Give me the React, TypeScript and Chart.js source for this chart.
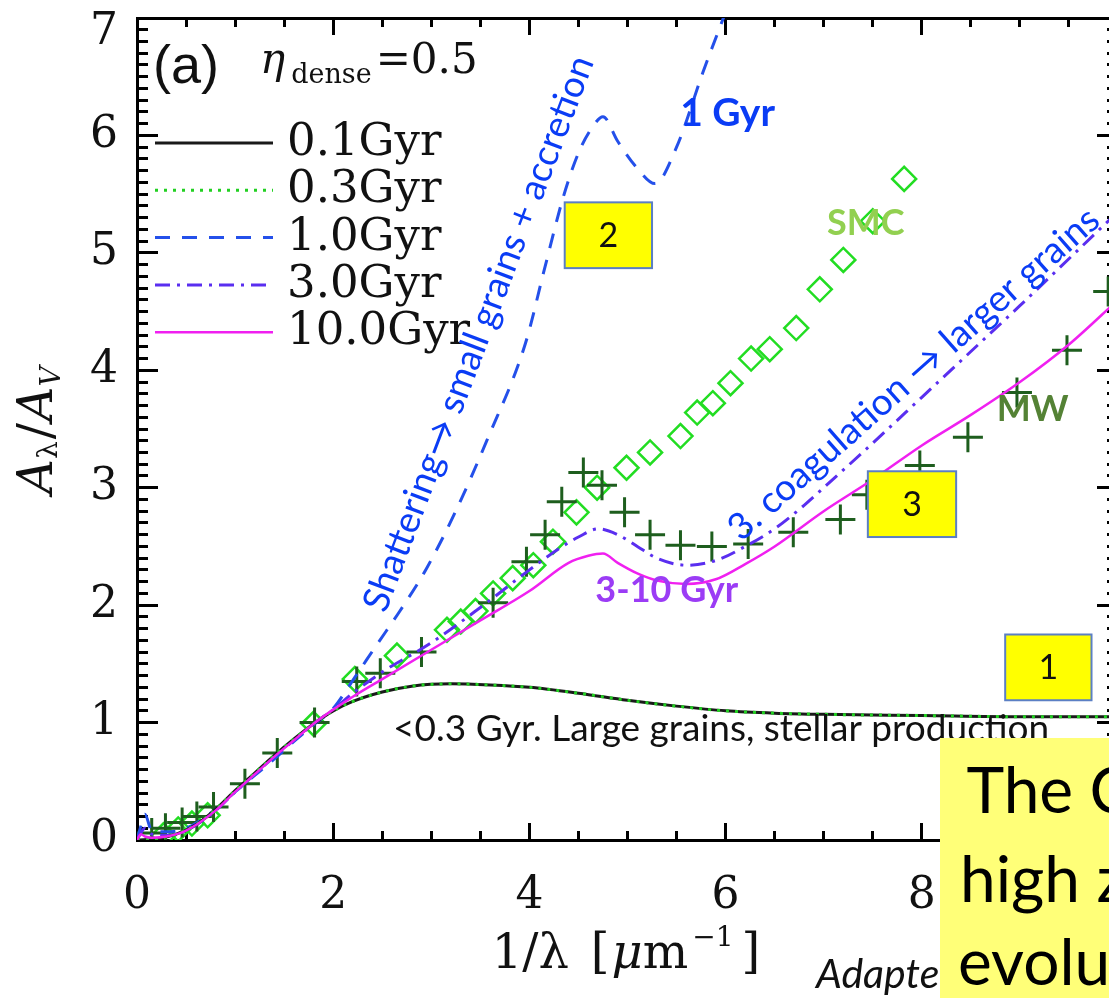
import React, { useEffect, useRef } from "react";
import { Chart, registerables } from "chart.js";

Chart.register(...registerables);

// ---- axis ticks ----
const X_MIN = 0;
const X_MAX = 10;
const X_TICK_STEP = 2;
const X_MINOR_STEP = 0.5;
const Y_MIN = 0;
const Y_MAX = 7;
const Y_TICK_STEP = 1;
const Y_MINOR_STEP = 0.1;

// ---- legend ----
const LEGEND_LABELS = ["0.1Gyr", "0.3Gyr", "1.0Gyr", "3.0Gyr", "10.0Gyr"];

// ---- model curves (A_lambda / A_V vs 1/lambda) ----
const G01_X = [0, 0.2, 0.4, 0.6, 0.8, 1.0, 1.2, 1.4, 1.6, 1.8, 2.0, 2.2, 2.5, 2.8, 3.2, 3.6, 4.0, 4.5, 5.0, 5.5, 6.0, 6.5, 7.0, 8.0, 9.0, 10.0];
const G01_Y = [0, 0.01, 0.05, 0.13, 0.26, 0.42, 0.57, 0.72, 0.86, 0.99, 1.1, 1.18, 1.26, 1.31, 1.33, 1.32, 1.3, 1.25, 1.19, 1.14, 1.1, 1.08, 1.07, 1.06, 1.05, 1.05];

const G03_X = [0, 0.2, 0.4, 0.6, 0.8, 1.0, 1.2, 1.4, 1.6, 1.8, 2.0, 2.2, 2.5, 2.8, 3.2, 3.6, 4.0, 4.5, 5.0, 5.5, 6.0, 6.5, 7.0, 8.0, 9.0, 10.0];
const G03_Y = [0, 0.01, 0.05, 0.13, 0.26, 0.42, 0.57, 0.72, 0.86, 0.99, 1.1, 1.18, 1.26, 1.31, 1.33, 1.32, 1.3, 1.25, 1.19, 1.14, 1.1, 1.08, 1.07, 1.06, 1.05, 1.05];

const G10_X = [0, 0.04, 0.08, 0.15, 0.3, 0.5, 0.8, 1.0, 1.2, 1.4, 1.6, 1.8, 2.0, 2.2, 2.45, 2.68, 2.95, 3.26, 3.57, 3.96, 4.15, 4.34, 4.5, 4.65, 4.75, 4.9, 5.1, 5.28, 5.5, 5.77, 6.0, 6.2];
const G10_Y = [0, 0.12, 0.22, 0.08, 0.07, 0.1, 0.26, 0.41, 0.55, 0.69, 0.84, 0.98, 1.12, 1.36, 1.67, 1.95, 2.31, 2.82, 3.41, 4.23, 4.85, 5.46, 5.85, 6.08, 6.16, 5.95, 5.72, 5.59, 5.9, 6.54, 7.05, 7.5];

const G30_X = [0, 0.04, 0.08, 0.15, 0.3, 0.5, 0.8, 1.0, 1.2, 1.4, 1.6, 1.8, 2.0, 2.2, 2.5, 3.0, 3.5, 4.0, 4.3, 4.5, 4.7, 4.9, 5.1, 5.3, 5.6, 5.9, 6.2, 6.5, 6.8, 7.0, 7.5, 8.0, 8.5, 9.0, 9.5, 10.0];
const G30_Y = [0, 0.06, 0.1, 0.05, 0.04, 0.08, 0.25, 0.41, 0.56, 0.71, 0.85, 0.99, 1.11, 1.25, 1.43, 1.68, 1.98, 2.3, 2.48, 2.58, 2.65, 2.6, 2.5, 2.4, 2.34, 2.38, 2.5, 2.65, 2.85, 3.0, 3.38, 3.77, 4.16, 4.55, 4.95, 5.35];

const G100_X = [0, 0.04, 0.08, 0.15, 0.3, 0.5, 0.8, 1.0, 1.2, 1.4, 1.6, 1.8, 2.0, 2.2, 2.5, 3.0, 3.5, 4.0, 4.4, 4.6, 4.75, 4.9, 5.1, 5.3, 5.6, 5.9, 6.2, 6.5, 7.0, 7.5, 8.0, 8.5, 9.0, 9.5, 10.0];
const G100_Y = [0, 0.05, 0.03, 0.02, 0.03, 0.08, 0.25, 0.41, 0.56, 0.71, 0.85, 0.99, 1.11, 1.22, 1.37, 1.62, 1.87, 2.12, 2.36, 2.42, 2.44, 2.36, 2.27, 2.21, 2.18, 2.22, 2.35, 2.5, 2.8, 3.07, 3.36, 3.62, 3.9, 4.22, 4.6];

// ---- observed extinction curves ----
const SMC_X = [0.27, 0.42, 0.56, 0.72, 1.8, 2.22, 2.65, 3.16, 3.3, 3.45, 3.63, 3.83, 4.04, 4.24, 4.48, 4.69, 4.99, 5.23, 5.54, 5.71, 5.87, 6.05, 6.26, 6.45, 6.72, 6.96, 7.2, 7.5, 7.82];
const SMC_Y = [0.04, 0.09, 0.14, 0.21, 0.99, 1.37, 1.57, 1.79, 1.86, 1.95, 2.1, 2.23, 2.34, 2.54, 2.79, 3.0, 3.17, 3.3, 3.44, 3.64, 3.72, 3.89, 4.1, 4.18, 4.36, 4.69, 4.94, 5.27, 5.63];

const MW_X = [0.15, 0.29, 0.46, 0.61, 0.78, 1.1, 1.43, 1.81, 2.24, 2.48, 2.9, 3.63, 3.97, 4.16, 4.33, 4.55, 4.74, 4.97, 5.23, 5.54, 5.86, 6.23, 6.69, 7.17, 7.44, 7.98, 8.47, 8.97, 9.48, 9.9];
const MW_Y = [0.06, 0.1, 0.15, 0.2, 0.28, 0.48, 0.74, 1.0, 1.35, 1.42, 1.6, 2.02, 2.37, 2.6, 2.88, 3.13, 3.02, 2.79, 2.6, 2.51, 2.5, 2.52, 2.62, 2.73, 2.94, 3.19, 3.43, 3.81, 4.17, 4.67];

const pts = (xs: number[], ys: number[]) => xs.map((x, i) => ({ x, y: ys[i] }));

const SERIF = '"DejaVu Serif", "Liberation Serif", serif';
const SANS = 'Lato, "Open Sans", sans-serif';
const INK = "#000";

type Seg = { t: string; font: string; dy?: number; gap?: number };

function drawSeq(ctx: CanvasRenderingContext2D, x: number, y: number, segs: Seg[], center: boolean) {
  let w = 0;
  segs.forEach((s) => {
    ctx.font = s.font;
    w += ctx.measureText(s.t).width + (s.gap || 0);
  });
  let cx = center ? x - w / 2 : x;
  segs.forEach((s) => {
    ctx.font = s.font;
    ctx.fillText(s.t, cx, y + (s.dy || 0));
    cx += ctx.measureText(s.t).width + (s.gap || 0);
  });
}

// an extra axis that only contributes inward tick marks (and optionally the frame line)
function tickAxis(
  axis: "x" | "y",
  position: string,
  min: number,
  max: number,
  step: number,
  len: number,
  weight: number,
  border: boolean
) {
  const horizontal = axis === "x";
  return {
    type: "linear",
    axis,
    position,
    min,
    max,
    weight,
    grid: { display: true, drawOnChartArea: false, drawTicks: true, tickLength: -len, tickWidth: 3, tickColor: INK, lineWidth: 3, color: INK },
    border: { display: border, width: 3, color: INK },
    ticks: { display: false, stepSize: step, autoSkip: false },
    afterFit: (s: any) => {
      if (horizontal) {
        s.height = 0;
        s.paddingLeft = 0;
        s.paddingRight = 0;
      } else {
        s.width = 0;
        s.paddingTop = 0;
        s.paddingBottom = 0;
      }
    },
  };
}

const decorPlugin = {
  id: "decor",
  afterDraw(chart: any) {
    const ctx: CanvasRenderingContext2D = chart.ctx;
    const xs = chart.scales.x;
    const ys = chart.scales.y;
    const px = (v: number) => xs.getPixelForValue(v);
    const py = (v: number) => ys.getPixelForValue(v);
    ctx.save();
    ctx.setLineDash([]);

    ctx.fillStyle = "#111";
    ctx.textAlign = "left";
    ctx.textBaseline = "alphabetic";

    // x axis title
    drawSeq(
      ctx,
      626,
      968,
      [
        { t: "1/λ", font: `48px ${SERIF}`, gap: 22 },
        { t: "[", font: `48px ${SERIF}`, gap: 2 },
        { t: "μ", font: `italic 48px ${SERIF}` },
        { t: "m", font: `48px ${SERIF}`, gap: 4 },
        { t: "−1", font: `28px ${SERIF}`, dy: -22, gap: 8 },
        { t: "]", font: `48px ${SERIF}` },
      ],
      true
    );

    // y axis title
    ctx.save();
    ctx.translate(52, 430);
    ctx.rotate(-Math.PI / 2);
    drawSeq(
      ctx,
      0,
      0,
      [
        { t: "A", font: `italic 48px ${SERIF}` },
        { t: "λ", font: `28px ${SERIF}`, dy: 5, gap: 2 },
        { t: "/", font: `48px ${SERIF}`, gap: 2 },
        { t: "A", font: `italic 48px ${SERIF}` },
        { t: "V", font: `italic 28px ${SERIF}`, dy: 8 },
      ],
      true
    );
    ctx.restore();

    // panel label
    ctx.font = `54px "Liberation Sans", Arial, sans-serif`;
    ctx.fillText("(a)", 153, 83);
    drawSeq(
      ctx,
      260,
      73,
      [
        { t: "η", font: `italic 42px ${SERIF}`, gap: 6 },
        { t: "dense", font: `27px ${SERIF}`, dy: 10, gap: 4 },
        { t: "=0.5", font: `42px ${SERIF}` },
      ],
      false
    );

    // legend
    [0, 1, 2, 3, 4].forEach((di, i) => {
      const ds = chart.data.datasets[di];
      const ly = 143 + i * 47.3;
      ctx.save();
      ctx.strokeStyle = ds.borderColor;
      ctx.lineWidth = ds.borderWidth;
      ctx.setLineDash(ds.borderDash || []);
      ctx.beginPath();
      ctx.moveTo(155, ly);
      ctx.lineTo(273, ly);
      ctx.stroke();
      ctx.restore();
      ctx.fillStyle = "#111";
      ctx.font = `45px ${SERIF}`;
      ctx.fillText(LEGEND_LABELS[i], 287, ly + 12);
    });

    // annotations
    const blue = "#0a3cf5";
    ctx.fillStyle = blue;
    ctx.textAlign = "center";
    ctx.font = `bold 39px ${SANS}`;
    ctx.fillText("1 Gyr", px(6.02), py(6.08));

    ctx.fillStyle = "#92d050";
    ctx.font = `bold 36px ${SANS}`;
    ctx.fillText("SMC", px(7.43), py(5.15));

    ctx.fillStyle = "#548235";
    ctx.font = `bold 36px ${SANS}`;
    ctx.fillText("MW", px(9.13), py(3.57));

    ctx.fillStyle = "#9b3cf5";
    ctx.font = `bold 36px ${SANS}`;
    ctx.fillText("3-10 Gyr", px(5.4), py(2.03));

    ctx.fillStyle = "#111";
    ctx.textAlign = "left";
    ctx.font = `37px ${SANS}`;
    ctx.fillText("<0.3 Gyr. Large grains, stellar production", px(2.61), py(0.846));

    // rotated annotations
    ctx.fillStyle = blue;
    ctx.textBaseline = "middle";
    ctx.font = `37px ${SANS}`;
    ctx.save();
    ctx.translate(px(2.42), py(1.96));
    ctx.rotate((-69.3 * Math.PI) / 180);
    ctx.fillText("Shattering→ small grains + accretion", 0, 0);
    ctx.restore();
    ctx.save();
    ctx.translate(px(6.08), py(2.61));
    ctx.rotate((-41.5 * Math.PI) / 180);
    ctx.fillText("3. coagulation → larger grains", 0, 0);
    ctx.restore();

    // numbered yellow boxes
    const boxes = [
      { t: "2", x0: 4.36, x1: 5.25, y0: 4.87, y1: 5.43 },
      { t: "3", x0: 7.45, x1: 8.35, y0: 2.58, y1: 3.14 },
      { t: "1", x0: 8.85, x1: 9.73, y0: 1.19, y1: 1.75 },
    ];
    boxes.forEach((b) => {
      const x0 = px(b.x0), x1 = px(b.x1), y0 = py(b.y1), y1 = py(b.y0);
      ctx.fillStyle = "#ffff00";
      ctx.fillRect(x0, y0, x1 - x0, y1 - y0);
      ctx.strokeStyle = "#5b7fc4";
      ctx.lineWidth = 2;
      ctx.strokeRect(x0, y0, x1 - x0, y1 - y0);
      ctx.fillStyle = "#111";
      ctx.textAlign = "center";
      ctx.textBaseline = "middle";
      ctx.font = `34px ${SANS}`;
      ctx.fillText(b.t, (x0 + x1) / 2, (y0 + y1) / 2 + 1);
    });

    // credit line and overlay box
    ctx.textAlign = "left";
    ctx.textBaseline = "alphabetic";
    ctx.fillStyle = "#111";
    ctx.font = `italic 41px ${SANS}`;
    ctx.fillText("Adapted from Asano et al.", 816, 988);

    ctx.fillStyle = "#ffff78";
    ctx.fillRect(940, 738, 300, 300);
    ctx.fillStyle = "#000";
    ctx.font = `64px ${SANS}`;
    ctx.fillText(" The C", 950, 813);
    ctx.fillText("high z", 960, 902);
    ctx.fillText("evolu", 958, 985);

    ctx.restore();
  },
};

export default function App() {
  const ref = useRef<HTMLCanvasElement | null>(null);

  useEffect(() => {
    if (!ref.current) return;
    const lineBase = {
      showLine: true,
      pointRadius: 0,
      pointHoverRadius: 0,
      cubicInterpolationMode: "monotone" as const,
      fill: false,
    };
    const chart = new Chart(ref.current, {
      type: "scatter",
      data: {
        datasets: [
          { ...lineBase, label: LEGEND_LABELS[0], data: pts(G01_X, G01_Y), borderColor: "#1a1a1a", borderWidth: 3, order: 6 },
          { ...lineBase, label: LEGEND_LABELS[1], data: pts(G03_X, G03_Y), borderColor: "#22d022", borderWidth: 3, borderDash: [3, 6], order: 5 },
          { ...lineBase, label: LEGEND_LABELS[2], data: pts(G10_X, G10_Y), borderColor: "#2450ea", borderWidth: 3, borderDash: [15, 12], order: 8 },
          { ...lineBase, label: LEGEND_LABELS[3], data: pts(G30_X, G30_Y), borderColor: "#5a2ef0", borderWidth: 3, borderDash: [15, 7, 3, 7], order: 7 },
          { ...lineBase, label: LEGEND_LABELS[4], data: pts(G100_X, G100_Y), borderColor: "#f020f0", borderWidth: 2.5, order: 1 },
          {
            label: "SMC",
            data: pts(SMC_X, SMC_Y),
            pointStyle: "rectRot",
            pointRadius: 12,
            pointBorderColor: "#22dd22",
            pointBackgroundColor: "rgba(0,0,0,0)",
            pointBorderWidth: 2.5,
            showLine: false,
            order: 10,
          },
          {
            label: "MW",
            data: pts(MW_X, MW_Y),
            pointStyle: "cross",
            pointRadius: 15,
            pointBorderColor: "#1e5e1e",
            pointBorderWidth: 3,
            showLine: false,
            order: 9,
          },
        ] as any,
      },
      options: {
        responsive: false,
        maintainAspectRatio: false,
        animation: false,
        devicePixelRatio: 1,
        events: [],
        layout: { padding: { top: 13, right: 42, bottom: 0, left: 0 } },
        plugins: { legend: { display: false }, tooltip: { enabled: false } },
        scales: {
          x: {
            type: "linear",
            position: "bottom",
            min: X_MIN,
            max: X_MAX,
            weight: 1,
            grid: { display: true, drawOnChartArea: false, drawTicks: true, tickLength: -17, tickWidth: 3, tickColor: INK, lineWidth: 3, color: INK },
            border: { display: true, width: 3, color: INK },
            afterFit: (s: any) => {
              s.height = 158;
              s.paddingLeft = 0;
              s.paddingRight = 0;
            },
            ticks: {
              stepSize: X_TICK_STEP,
              padding: 47,
              maxRotation: 0,
              autoSkip: false,
              color: "#111",
              font: { family: '"DejaVu Serif"', size: 44 },
            },
          },
          xMinor: tickAxis("x", "bottom", X_MIN, X_MAX, X_MINOR_STEP, 9, 0, false),
          xTop: tickAxis("x", "top", X_MIN, X_MAX, X_TICK_STEP, 17, 0, true),
          xTopMinor: tickAxis("x", "top", X_MIN, X_MAX, X_MINOR_STEP, 9, 1, false),
          y: {
            type: "linear",
            position: "left",
            min: Y_MIN,
            max: Y_MAX,
            weight: 1,
            grid: { display: true, drawOnChartArea: false, drawTicks: true, tickLength: -21, tickWidth: 3, tickColor: INK, lineWidth: 3, color: INK },
            border: { display: true, width: 3, color: INK },
            afterFit: (s: any) => {
              s.width = 137;
              s.paddingTop = 0;
              s.paddingBottom = 0;
            },
            ticks: {
              stepSize: Y_TICK_STEP,
              padding: 40,
              color: "#111",
              font: { family: '"DejaVu Serif"', size: 44, lineHeight: 0.68 },
              callback: (v: any) => (Number(v) === Y_MAX ? ["", String(v)] : String(v)),
            },
          },
          yMinor: tickAxis("y", "left", Y_MIN, Y_MAX, Y_MINOR_STEP, 11, 0, false),
          yRight: tickAxis("y", "right", Y_MIN, Y_MAX, Y_TICK_STEP, 21, 0, true),
          yRightMinor: tickAxis("y", "right", Y_MIN, Y_MAX, Y_MINOR_STEP, 11, 1, false),
        } as any,
      },
      plugins: [decorPlugin],
    });
    return () => chart.destroy();
  }, []);

  return (
    <div
      style={{
        position: "fixed",
        left: 0,
        top: 0,
        width: 1109,
        height: 998,
        overflow: "hidden",
        background: "#fff",
      }}
    >
      <canvas ref={ref} width={1160} height={998} style={{ display: "block", width: 1160, height: 998 }} />
    </div>
  );
}
